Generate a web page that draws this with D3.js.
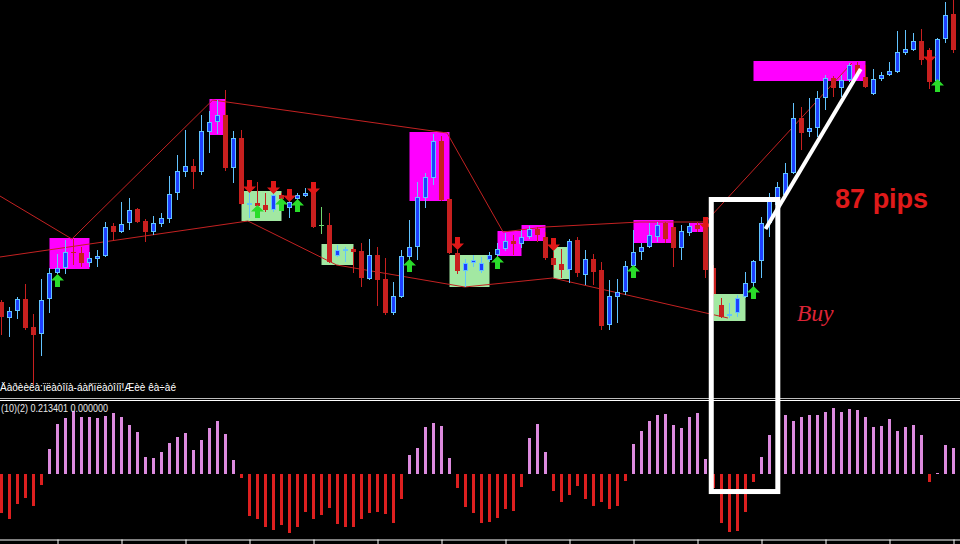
<!DOCTYPE html>
<html><head><meta charset="utf-8">
<script src="https://cdn.jsdelivr.net/npm/d3@7"></script>
<style>html,body{margin:0;padding:0;background:#000;overflow:hidden}svg{display:block}</style>
</head><body>
<svg id="c" width="960" height="544"></svg>
<script>
// ---- candle data (price in points) ----
const openP  = [98,82,89,101,73,66,101,127,132,148,147,137,141,144,174,168,177,191,179,168,
  176,181,207,228,234,228,268,278,285,232,262,196,197,195,190,205,192,201,204,208,
  175,175,144,150,151,149,121,145,121,87,103,143,153,202,222,259,201,147,129,137,
  129,140,145,151,159,156,163,171,163,142,136,130,160,125,141,130,75,103,108,134,
  148,153,163,177,173,152,167,175,172,132,95,84,87,103,117,139,177,195,205,227,
  282,268,272,302,322,312,320,335,323,306,321,325,328,347,350,359,347,319,361,386];
const highP  = [100,93,103,116,86,121,132,146,160,161,153,148,150,178,177,198,202,192,181,184,
  187,224,245,270,241,285,289,300,310,269,270,208,218,207,208,207,203,207,212,210,
  193,187,155,153,153,157,161,153,142,118,150,180,218,227,266,264,202,150,141,145,
  143,148,157,167,165,170,174,173,168,148,151,161,163,150,146,138,120,121,139,170,
  157,177,178,178,177,175,177,178,183,135,102,97,105,128,140,183,207,218,237,297,
  293,302,309,325,324,325,337,338,335,331,328,338,369,370,367,371,352,362,398,400];
const lowP   = [65,63,81,70,15,44,87,126,126,135,133,133,133,143,160,167,170,177,158,165,
  173,177,200,223,211,225,247,266,229,217,195,182,188,188,188,195,182,193,203,172,
  166,137,143,138,127,113,120,94,85,85,102,138,140,192,215,199,146,126,113,133,
  127,138,143,149,145,152,161,158,140,130,122,117,123,115,115,70,70,77,105,128,
  140,152,158,157,133,140,164,168,122,104,82,82,83,102,113,122,163,190,202,226,
  250,263,263,290,303,303,318,323,312,305,319,324,327,345,349,335,311,318,357,347];
const closeP = [83,89,101,72,65,100,127,132,148,147,137,142,144,173,168,176,190,178,168,177,
  182,206,229,234,228,269,278,285,232,262,196,197.5,194,190,205,201,198,205,207,173,
  175,138,150,151.5,148,122,145,120,87,104,144,153,203,223,259,200,147,129,137,140,
  137,145,151,159,156,163,171,165,142,135,130,159,127,141,128,74,104,108,134,148,
  153,165,175,161,152,169,174,171,130,106,83,86,102,117,139,177,200,213,227,282,
  267,272,302,322,312,320,335,325,313,321,325,329,348,351,359,340,318,361,385,350];

// ---- oscillator histogram ----
const histValues = [
  -0.320,-0.369,-0.246,-0.197,-0.263,-0.090,
  0.205,0.411,0.460,0.517,0.468,0.468,0.460,0.476,0.501,0.468,0.402,0.345,0.140,0.131,
  0.181,0.255,0.304,0.337,0.197,0.279,0.378,0.435,0.328,0.115,
  -0.033,-0.345,-0.369,-0.435,-0.460,-0.419,-0.484,-0.435,-0.312,-0.369,
  -0.337,-0.279,-0.411,-0.435,-0.435,-0.369,-0.320,-0.312,-0.328,-0.402,
  -0.205,0.156,0.213,0.386,0.419,0.394,0.131,-0.115,-0.271,-0.320,
  -0.402,-0.394,-0.361,-0.287,-0.304,-0.107,0.296,0.411,0.181,-0.140,
  -0.230,-0.172,-0.099,-0.205,-0.263,-0.230,-0.287,-0.263,-0.057,0.246,
  0.353,0.435,0.484,0.493,0.402,0.378,0.468,0.501,0.123,-0.115,
  -0.402,-0.476,-0.468,-0.312,-0.066,0.140,0.320,0.369,0.484,0.435,
  0.468,0.484,0.484,0.509,0.542,0.509,0.534,0.525,0.468,0.386,
  0.394,0.452,0.353,0.386,0.402,0.320,-0.066,0.008,0.238,0.2134];

const axisTickIdx = [7,15,23,31,39,47,55,63,71,79,87,95,103,111,119];

// zones: [startIdx, endIdx, topPrice, bottomPrice]
const magentaZones = [[6,11,162,131],[26,28,301,265],[51,56,268,199],[62,65,169,144],
  [65,68,175,159],[79,84,180,157],[86,88,177,168],[94,108,339,319]];
const greenZones = [[30,35,209,179],[40,44,156,135],[56,61,145,113],[69,71,153,121],[89,93,106,79]];

// zigzag lines: [idx, price]
const upperZigzag = [[-0.2,204],[8.8,161],[26.4,300],[55.7,267],[62.7,168],[67.9,173],[79.8,178],[88,178],[106.3,337]];
const lowerZigzag = [[-0.2,143],[30.8,179],[41.9,135],[57.9,113],[68.9,122],[90.8,82]];

// signal arrows: [idx, tip price]
const buyArrows  = [[7,126],[32,195],[35,202],[37,201],[51,141],[62,144],[79,135],[94,114],[117,321]];
const sellArrows = [[31,207],[34,206],[36,198],[39,205],[57,150],[69,149],[88,170],[116,337]];

// annotations
const highlightBox = {i0:88.72, i1:97.04, topPrice:200.5, bottomHist:-0.144};
const moveLine = [[95.5,171],[107.4,331]];
const pipsLabel = {text:"87 pips", i:104.2, price:192};
const buyLabel = {text:"Buy", i:99.4, price:79};
const headerText = "Äàðèèêà:ïëàòîíà-áàñïëàòîíî!Æèè êà÷àé";
const indicatorText = "(10)(2) 0.213401 0.000000";

// ---- drawing ----
const svg = d3.select("#c");
svg.append("rect").attr("width",960).attr("height",544).attr("fill","#000");

const x = d3.scaleLinear().domain([0,120]).range([1.5,961.5]);
const y = d3.scaleLinear().domain([0,400]).range([400,0]);
const yh = d3.scaleLinear().domain([-0.6,0.6]).range([547.08,400.92]);

svg.append("clipPath").attr("id","mainClip").append("rect").attr("x",0).attr("y",0).attr("width",960).attr("height",397);
const main = svg.append("g").attr("clip-path","url(#mainClip)");

// zones
function zones(data, color){
  main.append("g").selectAll("rect").data(data).join("rect")
    .attr("x",d=>x(d[0])).attr("width",d=>x(d[1])-x(d[0]))
    .attr("y",d=>y(d[2])).attr("height",d=>y(d[3])-y(d[2]))
    .attr("fill",color);
}
zones(magentaZones,"#ff00ff");
zones(greenZones,"#a2e8a2");

// zigzag
const line = d3.line().x(d=>x(d[0])).y(d=>y(d[1]));
[upperZigzag, lowerZigzag].forEach(pts=>{
  main.append("path").attr("d",line(pts)).attr("fill","none").attr("stroke","#c42222").attr("stroke-width",1);
});

// candles
const idx = d3.range(openP.length);
const BULL_FILL="#1e40ff", BULL_LINE="#62c4ff", BEAR="#c8201f", DOJI="#6fd86f";
const cg = main.append("g").attr("shape-rendering","crispEdges");
idx.forEach(i=>{
  const o=openP[i], c=closeP[i], h=highP[i], l=lowP[i];
  const bull = c>o, doji = c===o;
  const col = doji?DOJI:(bull?BULL_LINE:BEAR);
  const xc = x(i);
  cg.append("line").attr("x1",xc).attr("x2",xc).attr("y1",Math.round(y(h))).attr("y2",Math.round(y(l)))
    .attr("stroke",col).attr("stroke-width",1);
  if(doji){
    cg.append("line").attr("x1",xc-2.5).attr("x2",xc+2.5).attr("y1",Math.round(y(o))+0.5).attr("y2",Math.round(y(o))+0.5)
      .attr("stroke",DOJI).attr("stroke-width",1);
  } else if(bull){
    const top=Math.round(y(c)), bot=Math.round(y(o));
    cg.append("rect").attr("x",xc-2).attr("width",4).attr("y",top+0.5).attr("height",Math.max(1,bot-top-1))
      .attr("fill",BULL_FILL).attr("stroke",BULL_LINE).attr("stroke-width",1);
  } else {
    const top=Math.round(y(o)), bot=Math.round(y(c));
    cg.append("rect").attr("x",xc-2.5).attr("width",5).attr("y",top).attr("height",Math.max(1,bot-top))
      .attr("fill",BEAR);
  }
});

// arrows
function arrowPath(xc, yt, dir){ // dir -1 up (tip at top), +1 down (tip at bottom)
  const s = -dir;
  const pts = [[0,0],[6.5,6.5*s],[2.5,6.5*s],[2.5,13*s],[-2.5,13*s],[-2.5,6.5*s],[-6.5,6.5*s]];
  return "M"+pts.map(p=>[xc+p[0], yt+p[1]].join(",")).join("L")+"Z";
}
main.append("g").selectAll("path").data(buyArrows).join("path")
  .attr("d",d=>arrowPath(x(d[0]), y(d[1]), -1)).attr("fill","#2add2a");
main.append("g").selectAll("path").data(sellArrows).join("path")
  .attr("d",d=>arrowPath(x(d[0]), y(d[1]), 1)).attr("fill","#e01818");

// header text
svg.append("text").attr("x",0).attr("y",391).attr("fill","#ffffff")
  .attr("font-family","Liberation Sans, Arial, sans-serif").attr("font-size",11)
  .attr("textLength",176).attr("lengthAdjust","spacingAndGlyphs").text(headerText);

// separator lines
svg.append("line").attr("x1",0).attr("x2",960).attr("y1",398.5).attr("y2",398.5).attr("stroke","#bdbdbd");
svg.append("line").attr("x1",0).attr("x2",960).attr("y1",400.5).attr("y2",400.5).attr("stroke","#ffffff");

// histogram
svg.append("g").attr("shape-rendering","crispEdges").selectAll("rect").data(histValues).join("rect")
  .attr("x",(d,i)=>Math.round(x(i)-1.5)).attr("width",3)
  .attr("y",d=>Math.round(d>=0?yh(d):yh(0))).attr("height",d=>Math.max(1,Math.round(Math.abs(yh(d)-yh(0)))))
  .attr("fill",d=>d>=0?"#dc8ade":"#dd1f1f");

svg.append("text").attr("x",1).attr("y",412).attr("fill","#e8e8e8")
  .attr("font-family","Liberation Sans, Arial, sans-serif").attr("font-size",11)
  .attr("textLength",107).attr("lengthAdjust","spacingAndGlyphs").text(indicatorText);

// bottom time axis (labels outside view)
const ax = svg.append("g").attr("transform","translate(0,539.5)")
  .call(d3.axisBottom(x).tickValues(axisTickIdx).tickSize(6).tickFormat(""));
ax.select(".domain").attr("stroke","#fff").attr("d","M0,0.5H960");
ax.selectAll(".tick line").attr("stroke","#fff");

// annotations
svg.append("rect")
  .attr("x",x(highlightBox.i0)).attr("y",y(highlightBox.topPrice))
  .attr("width",x(highlightBox.i1)-x(highlightBox.i0))
  .attr("height",yh(highlightBox.bottomHist)-y(highlightBox.topPrice))
  .attr("fill","none").attr("stroke","#fff").attr("stroke-width",5);
svg.append("path").attr("d",line(moveLine)).attr("stroke","#fff").attr("stroke-width",4).attr("fill","none");

svg.append("text").attr("x",x(pipsLabel.i)).attr("y",y(pipsLabel.price)).attr("fill","#e01a1a")
  .attr("font-family","Liberation Sans, Arial, sans-serif").attr("font-weight","bold").attr("font-size",27)
  .text(pipsLabel.text);
svg.append("text").attr("x",x(buyLabel.i)).attr("y",y(buyLabel.price)).attr("fill","#dc2436")
  .attr("font-family","Liberation Serif, Times New Roman, serif").attr("font-style","italic").attr("font-size",23)
  .attr("textLength",37).attr("lengthAdjust","spacingAndGlyphs")
  .text(buyLabel.text);
</script>
</body></html>
